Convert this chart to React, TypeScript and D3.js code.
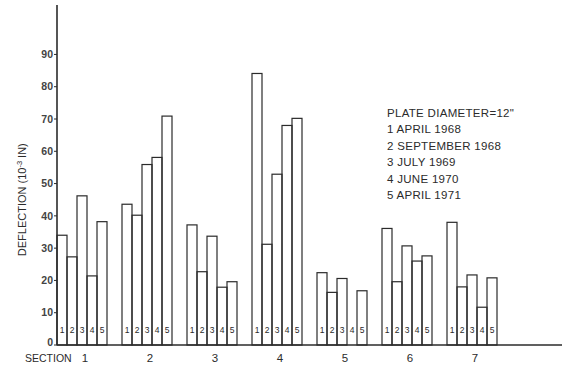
import * as d3 from "d3";

const sections = ["1", "2", "3", "4", "5", "6", "7"];
const surveys = ["1", "2", "3", "4", "5"];
// deflection per section, one value per survey date (null = no reading)
const deflection: (number | null)[][] = [
  [34, 27.3, 46.2, 21.4, 38.2],
  [43.6, 40.2, 55.9, 58.1, 70.9],
  [37.2, 22.7, 33.7, 17.9, 19.6],
  [84.1, 31.2, 52.9, 68, 70.2],
  [22.4, 16.3, 20.6, null, 16.8],
  [36.1, 19.6, 30.7, 26, 27.6],
  [38, 18, 21.7, 11.7, 20.8],
];
const yTicks = [0, 10, 20, 30, 40, 50, 60, 70, 80, 90];
const legendTitle = 'PLATE DIAMETER=12"';
const legendItems = [
  "1 APRIL 1968",
  "2 SEPTEMBER 1968",
  "3 JULY 1969",
  "4 JUNE 1970",
  "5 APRIL 1971",
];

const width = 562;
const height = 365;
const x0 = 57;
const baseY = 345;
const ink = "#2b2b2b";
const font = "'Liberation Sans', Arial, sans-serif";

export default function App() {
  const xScale = d3
    .scaleBand<string>()
    .domain(sections)
    .range([x0, 497])
    .paddingInner(15 / 65)
    .paddingOuter(0);
  const barScale = d3
    .scaleBand<string>()
    .domain(surveys)
    .range([0, xScale.bandwidth()]);
  const yScale = d3.scaleLinear().domain([0, 105]).range([baseY, 6]);

  return (
    <svg
      width={width}
      height={height}
      style={{ position: "absolute", left: 0, top: 0, background: "#fff" }}
      fontFamily={font}
    >
      {/* bars */}
      {sections.map((s, i) => (
        <g key={s} transform={`translate(${xScale(s)},0)`}>
          {surveys.map((v, j) => {
            const val = deflection[i][j];
            const bx = barScale(v) ?? 0;
            return (
              <g key={v}>
                {val !== null && (
                  <rect
                    x={bx}
                    y={yScale(val)}
                    width={barScale.bandwidth()}
                    height={baseY - yScale(val)}
                    fill="none"
                    stroke={ink}
                    strokeWidth={1.2}
                  />
                )}
                <text
                  x={bx + barScale.bandwidth() / 2}
                  y={333}
                  textAnchor="middle"
                  fontSize={8.5}
                  fill={ink}
                >
                  {v}
                </text>
              </g>
            );
          })}
          <text
            x={xScale.bandwidth() / 2 + 3}
            y={362}
            textAnchor="middle"
            fontSize={11.5}
            fill={ink}
          >
            {s}
          </text>
        </g>
      ))}

      {/* axes */}
      <line x1={x0} x2={x0} y1={5} y2={baseY} stroke={ink} strokeWidth={1.6} />
      <line x1={x0} x2={width} y1={baseY} y2={baseY} stroke={ink} strokeWidth={1.6} />
      {yTicks.map((t) => (
        <g key={t} transform={`translate(0,${yScale(t)})`}>
          <line x1={x0 - 3} x2={x0} stroke={ink} strokeWidth={1} />
          <text
            x={x0 - 4}
            dy={t === 0 ? "0.1em" : "0.35em"}
            textAnchor="end"
            fontSize={10.5}
            fontWeight="bold"
            fill="#444"
          >
            {t}
          </text>
        </g>
      ))}
      <text x={25} y={362} fontSize={10.5} fill={ink}>
        SECTION
      </text>
      <text
        transform={`translate(26,${yScale(45)}) rotate(-90)`}
        textAnchor="middle"
        fontSize={11}
        fill={ink}
      >
        DEFLECTION (10
        <tspan fontSize={7.5} dy={-4}>
          -3
        </tspan>
        <tspan dy={4}> IN)</tspan>
      </text>

      {/* legend */}
      <g transform="translate(387,117)" fontSize={11.5} fill={ink} letterSpacing={0.3}>
        <text y={0}>{legendTitle}</text>
        {legendItems.map((d, i) => (
          <text key={d} y={(i + 1) * 16.4}>
            {d}
          </text>
        ))}
      </g>
    </svg>
  );
}
